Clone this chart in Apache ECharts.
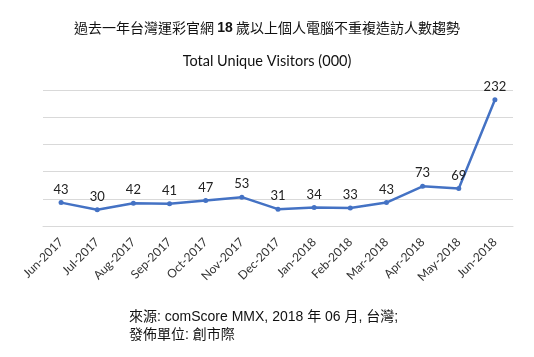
<!DOCTYPE html>
<html>
<head>
<meta charset="utf-8">
<script src="https://cdn.jsdelivr.net/npm/echarts@6/dist/echarts.min.js"></script>
<style>
html,body{margin:0;padding:0;background:#fff;}
#c{width:534px;height:357px;}
</style>
</head>
<body>
<div id="c"></div>
<script>
var categories = ["Jun-2017","Jul-2017","Aug-2017","Sep-2017","Oct-2017","Nov-2017","Dec-2017","Jan-2018","Feb-2018","Mar-2018","Apr-2018","May-2018","Jun-2018"];
var visitors = [43,30,42,41,47,53,31,34,33,43,73,69,232];
var yMin = 0, yMax = 250, yStep = 50;

var chart = echarts.init(document.getElementById('c'));
chart.setOption({
  animation: false,
  backgroundColor: '#fff',
  title: [{
    text: '{n|過去一年台灣運彩官網 }{b|18}{n| 歲以上個人電腦不重複造訪人數趨勢}',
    left: 'center', top: 16,
    textStyle: {
      fontWeight: 'normal',
      rich: {
        n: {fontFamily: '"Noto Sans CJK TC", sans-serif', fontSize: 14, fontWeight: 'normal', color: '#111'},
        b: {fontFamily: 'Liberation Sans, Arial, sans-serif', fontSize: 14, fontWeight: 'bold', color: '#111'}
      }
    }
  },{
    text: 'Total Unique Visitors (000)',
    left: 'center', top: 49,
    textStyle: {fontFamily: 'Lato, sans-serif', fontSize: 14.5, fontWeight: 'normal', color: '#111'}
  }],
  grid: {left: 43, right: 21, top: 90, bottom: 131},
  xAxis: {
    type: 'category',
    data: categories,
    boundaryGap: true,
    axisLine: {show: true, lineStyle: {color: '#d9d9d9', width: 1}},
    axisTick: {show: false},
    axisLabel: {
      rotate: 45, interval: 0, margin: 14,
      fontFamily: 'Lato, sans-serif', fontSize: 12, color: '#333'
    }
  },
  yAxis: {
    type: 'value', min: yMin, max: yMax, interval: yStep,
    axisLabel: {show: false},
    axisLine: {show: false}, axisTick: {show: false},
    splitLine: {lineStyle: {color: '#d9d9d9', width: 1}}
  },
  series: [{
    type: 'line',
    data: visitors,
    symbol: 'circle', symbolSize: 5,
    lineStyle: {color: '#4472C4', width: 2.5},
    itemStyle: {color: '#4472C4'},
    label: {
      show: true, position: 'top', distance: 4,
      fontFamily: 'Lato, sans-serif', fontSize: 13, color: '#222'
    }
  }],
  graphic: [{
    type: 'text', left: 129, top: 308,
    style: {
      text: '來源: comScore MMX, 2018 年 06 月, 台灣;\n發佈單位: 創市際',
      font: '14px "Liberation Sans", "Noto Sans CJK TC", sans-serif',
      lineHeight: 18, fill: '#111'
    }
  }]
});
</script>
</body>
</html>
